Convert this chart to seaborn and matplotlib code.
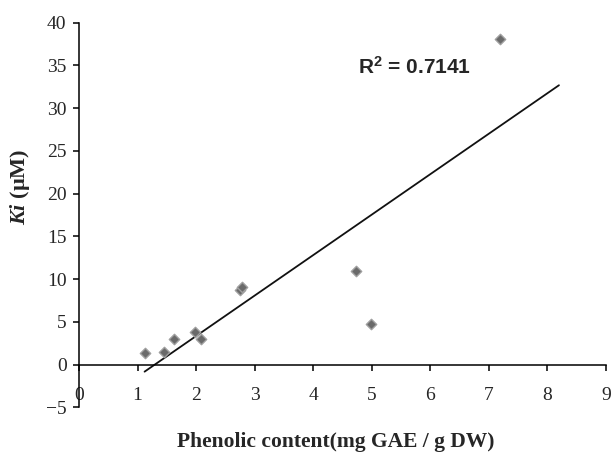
import numpy as np
import pandas as pd
import seaborn as sns
import matplotlib.pyplot as plt

# values
phenolic = [1.12, 1.45, 1.62, 1.99, 2.09, 2.75, 2.79, 4.74, 4.99, 7.20]
ki = [1.3, 1.5, 3.0, 3.8, 2.95, 8.7, 9.1, 10.97, 4.74, 38.07]
x_ticks = [0, 1, 2, 3, 4, 5, 6, 7, 8, 9]
y_ticks = [-5, 0, 5, 10, 15, 20, 25, 30, 35, 40]
r2_label = r"$\mathsf{R^{2}}$ = 0.7141"

df = pd.DataFrame({"phenolic": phenolic, "ki": ki})

# linear trend line (extended one unit forward, like the spreadsheet trendline)
slope, intercept = np.polyfit(df["phenolic"], df["ki"], 1)
trend = pd.DataFrame({"phenolic": [min(phenolic), max(phenolic) + 1.0]})
trend["ki"] = slope * trend["phenolic"] + intercept

sns.set_style("white")
plt.rcParams["font.family"] = ["Liberation Serif", "DejaVu Serif"]
plt.rcParams["mathtext.fontset"] = "custom"
plt.rcParams["mathtext.it"] = "Liberation Serif:italic:bold"
plt.rcParams["mathtext.rm"] = "Liberation Serif:bold"
plt.rcParams["mathtext.sf"] = "Liberation Sans:bold"

fig = plt.figure(figsize=(6.15, 4.53), dpi=100)
ax = fig.add_axes([0.1285, 0.101, 0.8565, 0.849])

sns.lineplot(data=trend, x="phenolic", y="ki", ax=ax, color="#111111", linewidth=1.3)
sns.scatterplot(data=df, x="phenolic", y="ki", ax=ax, marker="D", s=28,
                color="#6a6a6a", edgecolor="#a0a0a0", linewidth=1.0, zorder=3)

ax.set_xlim(0, 9)
ax.set_ylim(-5, 40)
ax.set_xticks(x_ticks)
ax.set_yticks(y_ticks)

ax.spines["top"].set_visible(False)
ax.spines["right"].set_visible(False)
ax.spines["bottom"].set_position(("data", 0))
for sp in ["left", "bottom"]:
    ax.spines[sp].set_linewidth(1.1)
    ax.spines[sp].set_color("black")

ax.tick_params(axis="x", bottom=True, direction="out", length=4, width=1.1,
               color="black", pad=12, labelsize=14)
ax.tick_params(axis="y", left=True, direction="out", length=4, width=1.1,
               color="black", pad=5, labelsize=14)

ax.set_xlabel("Phenolic content(mg GAE / g DW)", fontsize=15.5, fontweight="bold")
ax.set_ylabel(r"$Ki$ (µM)", fontsize=16, fontweight="bold")
ax.xaxis.set_label_coords(0.488, -0.064)
ax.yaxis.set_label_coords(-0.089, 0.573)

ax.text(4.76, 34.06, r2_label, fontsize=15, fontweight="bold",
        family=["Liberation Sans", "DejaVu Sans"], ha="left", va="baseline")

plt.savefig("out.png", dpi=100)
